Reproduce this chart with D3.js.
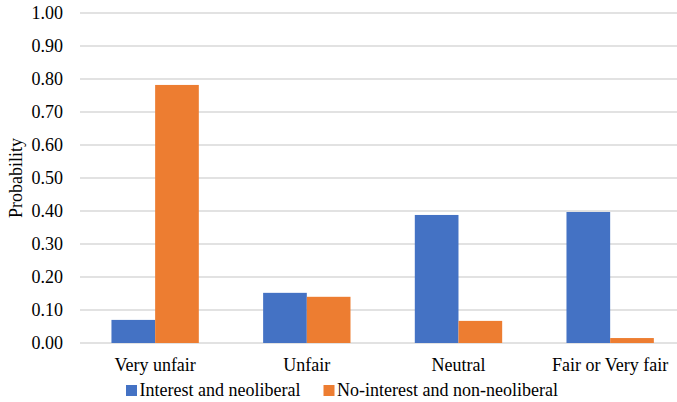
<!DOCTYPE html>
<html>
<head>
<meta charset="utf-8">
<script src="https://cdn.jsdelivr.net/npm/d3@7"></script>
<style>
  body { margin: 0; background: #fff; }
</style>
</head>
<body>
<div id="chart"></div>
<script>
const categories = ["Very unfair", "Unfair", "Neutral", "Fair or Very fair"];
const seriesNames = ["Interest and neoliberal", "No-interest and non-neoliberal"];
const interestNeoliberal = [0.07, 0.152, 0.388, 0.397];
const noInterestNonNeoliberal = [0.782, 0.14, 0.067, 0.015];
const yTicks = [0, 0.1, 0.2, 0.3, 0.4, 0.5, 0.6, 0.7, 0.8, 0.9, 1.0];
const colors = ["#4472C4", "#ED7D31"];

const width = 677, height = 402;
const plot = { left: 80, right: 677, top: 13, bottom: 343 };
const font = "'Liberation Serif', 'Times New Roman', Times, serif";

const svg = d3.select("#chart")
              .append("svg")
              .attr("width", width)
              .attr("height", height)
              .style("font-family", font);

// y axis
const y = d3.scaleLinear()
            .domain([0, 1])
            .range([plot.bottom, plot.top]);

// x axis: groups, then bars inside each group
const x = d3.scaleBand()
            .domain(categories)
            .range([79.3, 686])
            .paddingInner(0.424)
            .paddingOuter(0.212);

const xInner = d3.scaleBand()
                 .domain([0, 1])
                 .range([0, x.bandwidth()]);

// gridlines
svg.append("g")
   .selectAll("line")
   .data(yTicks)
   .join("line")
   .attr("x1", plot.left)
   .attr("x2", plot.right)
   .attr("y1", d => y(d))
   .attr("y2", d => y(d))
   .attr("stroke", "#d9d9d9")
   .attr("stroke-width", 1.3);

// tick labels
svg.append("g")
   .selectAll("text")
   .data(yTicks)
   .join("text")
   .attr("x", 63)
   .attr("y", d => y(d))
   .attr("dy", "0.34em")
   .attr("text-anchor", "end")
   .style("font-size", "18px")
   .text(d => d3.format(".2f")(d));

// bars
const rows = categories.map((c, i) => ({
  cat: c,
  vals: [interestNeoliberal[i], noInterestNonNeoliberal[i]]
}));

const groups = svg.append("g")
                  .selectAll("g")
                  .data(rows)
                  .join("g")
                  .attr("transform", d => `translate(${x(d.cat)},0)`);

groups.selectAll("rect")
      .data(d => d.vals.map((v, k) => ({ k, v })))
      .join("rect")
      .attr("x", d => xInner(d.k))
      .attr("width", xInner.bandwidth())
      .attr("y", d => y(d.v))
      .attr("height", d => y(0) - y(d.v))
      .attr("fill", d => colors[d.k]);

// category labels
svg.append("g")
   .selectAll("text")
   .data(categories)
   .join("text")
   .attr("x", d => x(d) + x.bandwidth() / 2)
   .attr("y", 371)
   .attr("text-anchor", "middle")
   .style("font-size", "18px")
   .text(d => d);

// y label
svg.append("text")
   .attr("transform", `translate(22,${(plot.top + plot.bottom) / 2}) rotate(-90)`)
   .attr("text-anchor", "middle")
   .style("font-size", "18px")
   .text("Probability");

// legend
const legendX = [126, 323.5];
const legend = svg.append("g")
                  .selectAll("g")
                  .data(seriesNames)
                  .join("g")
                  .attr("transform", (d, i) => `translate(${legendX[i]},385)`);

legend.append("rect")
      .attr("width", 11)
      .attr("height", 11)
      .attr("fill", (d, i) => colors[i]);

legend.append("text")
      .attr("x", 13.5)
      .attr("y", 11)
      .style("font-size", "18px")
      .text(d => d);
</script>
</body>
</html>
